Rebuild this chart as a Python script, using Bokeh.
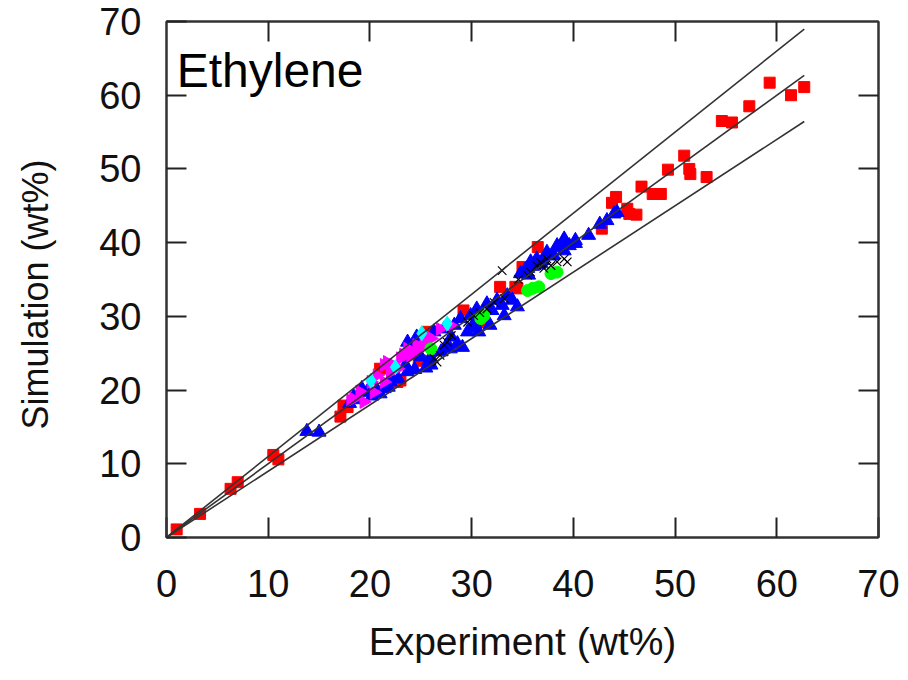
import numpy as np
from bokeh.plotting import figure
from bokeh.models import Range1d, LinearAxis, FixedTicker, Label
from bokeh.embed import file_html
from bokeh.resources import INLINE

# ---- data (Experiment wt%, Simulation wt%) ----
red_x = [1.0, 3.3, 6.3, 7.0, 10.5, 11.0, 17.1, 17.8, 17.4, 21.0, 22.7, 23.0, 25.0, 24.8, 25.6,
         29.2, 31.2, 32.8, 34.3, 34.5, 35.0, 36.5, 42.8, 43.8, 44.2, 45.3, 45.5, 46.2, 46.7,
         47.8, 48.6, 49.3, 50.9, 51.4, 51.5, 53.1, 54.6, 55.6, 57.3, 59.3, 61.4, 62.7]
red_y = [1.1, 3.2, 6.6, 7.5, 11.2, 10.6, 16.4, 17.7, 17.9, 22.9, 21.1, 21.3, 24.0, 24.0, 27.9,
         30.8, 29.2, 34.0, 34.0, 33.8, 36.7, 39.4, 41.9, 45.4, 46.2, 44.6, 43.9, 43.8, 47.6,
         46.6, 46.6, 49.9, 51.8, 50.0, 49.3, 48.9, 56.5, 56.3, 58.5, 61.7, 60.0, 61.1]

blue_x = [13.8, 15.0, 18.4, 19.2, 19.7, 20.7, 21.4, 22.0, 23.7, 23.5, 24.0, 25.0, 26.0, 26.0,
          23.7, 24.6, 26.3, 27.3, 27.9, 28.3, 28.6, 28.9, 29.1, 29.6, 29.9, 30.5, 30.7, 31.5,
          31.8, 32.5, 33.2, 33.5, 34.0, 34.5, 35.5, 35.8, 36.4, 37.4, 38.4, 39.1, 39.1, 39.0,
          40.2, 40.2, 41.5, 42.6, 43.3, 44.0, 44.3, 19.0, 21.0, 22.5, 25.5, 27.0, 30.0, 33.0,
          36.8, 37.9, 38.8, 18.0, 20.2, 21.8, 22.8, 24.4, 25.8, 27.5, 28.0, 30.3, 31.0, 32.0,
          34.8, 35.2, 36.0, 37.0, 38.0, 39.6, 35.6, 36.6]
blue_y = [14.4, 14.3, 19.1, 20.2, 19.7, 20.0, 20.2, 21.1, 22.5, 23.4, 25.2, 24.5, 24.3, 23.4,
          26.5, 27.2, 27.9, 28.3, 25.6, 28.8, 26.3, 29.7, 25.8, 27.9, 30.1, 31.0, 27.9, 31.7,
          28.8, 32.2, 30.1, 32.8, 32.2, 31.3, 36.5, 37.4, 37.8, 38.7, 39.6, 40.5, 38.9, 40.1,
          40.3, 39.9, 41.0, 42.5, 43.0, 43.9, 44.1, 18.7, 19.5, 21.8, 23.0, 25.2, 28.5, 31.5,
          37.2, 38.2, 39.3, 18.2, 19.2, 20.4, 21.5, 22.8, 24.0, 26.0, 27.2, 29.0, 29.8, 30.8,
          35.8, 36.2, 36.8, 37.6, 38.4, 39.6, 35.6, 37.0]

mag_x = [18.1, 18.4, 19.4, 20.1, 20.4, 20.7, 21.4, 21.4, 21.7, 22.3, 22.7, 23.0, 23.7, 24.0,
         24.3, 24.6, 25.3, 25.6, 26.0, 26.9, 27.9, 19.0, 22.0, 23.3, 25.0]
mag_y = [18.6, 18.8, 18.4, 21.1, 19.7, 22.0, 21.1, 23.4, 23.8, 23.4, 22.9, 24.3, 25.6, 24.7,
         25.2, 26.1, 26.5, 27.4, 27.0, 28.3, 28.8, 19.8, 22.4, 24.8, 25.8]

cyan_x = [20.1, 22.5, 25.1, 27.6]
cyan_y = [21.3, 23.1, 27.7, 29.0]

green_x = [26.0, 30.9, 31.2, 35.5, 36.0, 36.6, 37.8, 38.4]
green_y = [25.6, 29.7, 30.1, 33.5, 33.8, 34.0, 35.8, 36.0]

black_x = [26.3, 26.6, 26.9, 27.3, 27.6, 29.6, 30.2, 31.5, 32.2, 33.2, 33.0, 35.5, 35.8, 36.4,
           37.1, 37.4, 37.8, 38.4, 39.1, 39.4, 28.0, 30.8, 34.6, 36.8]
black_y = [24.3, 23.8, 24.7, 26.1, 26.5, 29.2, 30.1, 31.0, 31.9, 32.4, 36.2, 35.6, 36.0, 36.9,
           36.5, 37.8, 36.9, 37.4, 37.8, 37.4, 27.4, 30.5, 35.0, 37.3]

line_x = [0.0, 62.7]
line_factors = [1.1, 1.0, 0.9]

ticks = [0, 10, 20, 30, 40, 50, 60, 70]
mirror_ticks = [10, 20, 30, 40, 50, 60]

FONT = "Liberation Sans"

p = figure(frame_width=712, frame_height=516,
           min_border_left=166, min_border_right=22, min_border_top=21, min_border_bottom=135,
           x_range=Range1d(0, 70), y_range=Range1d(0, 70),
           output_backend="svg", toolbar_location=None,
           x_axis_label="Experiment (wt%)",
           y_axis_label="Simulation (wt%)\u00a0\u00a0\u00a0")

p.xgrid.visible = False
p.ygrid.visible = False
p.outline_line_color = "#333333"
p.outline_line_width = 2
p.background_fill_color = "white"
p.border_fill_color = "white"

for ax in (p.xaxis[0], p.yaxis[0]):
    ax.ticker = FixedTicker(ticks=ticks)
    ax.major_tick_in = 20
    ax.major_tick_out = 0
    ax.minor_tick_in = 0
    ax.minor_tick_out = 0
    ax.axis_line_color = "#333333"
    ax.axis_line_width = 2
    ax.major_tick_line_color = "#222222"
    ax.major_tick_line_width = 2
    ax.major_label_text_font = FONT
    ax.major_label_text_font_size = "38px"
    ax.major_label_text_color = "#111111"
    ax.axis_label_text_font = FONT
    ax.axis_label_text_font_style = "normal"
    ax.axis_label_text_color = "#111111"

p.xaxis[0].axis_label_text_font_size = "39px"
p.yaxis[0].axis_label_text_font_size = "36px"
p.xaxis[0].major_label_standoff = 32
p.xaxis[0].axis_label_standoff = 20
p.yaxis[0].major_label_standoff = 25
p.yaxis[0].axis_label_standoff = 40

# mirrored inward ticks on the top and right frame edges (no labels)
for side in ("right", "above"):
    ax = LinearAxis(ticker=FixedTicker(ticks=mirror_ticks))
    ax.major_tick_in = 20
    ax.major_tick_out = 0
    ax.minor_tick_in = 0
    ax.minor_tick_out = 0
    ax.major_label_overrides = {t: "" for t in mirror_ticks}
    ax.major_label_text_font_size = "10px"
    ax.major_label_standoff = 0
    ax.axis_line_color = "#333333"
    ax.axis_line_width = 2
    ax.major_tick_line_color = "#222222"
    ax.major_tick_line_width = 2
    p.add_layout(ax, side)

# markers
p.scatter(red_x, red_y, marker="square", size=11, fill_color="#ff0000", line_color="#ff0000")
p.scatter(blue_x, blue_y, marker="triangle", size=14, fill_color="#0000ff", line_color="#0000ff")
p.scatter(mag_x, mag_y, marker="triangle", angle=-np.pi / 2, size=13,
          fill_color="#ff00ff", line_color="#ff00ff")
p.scatter(cyan_x, cyan_y, marker="diamond", size=15, fill_color="#00ffff", line_color="#00ffff")
p.scatter(green_x, green_y, marker="circle", size=12, fill_color="#00ff00", line_color="#00ff00")
p.scatter(black_x, black_y, marker="x", size=12, line_color="#000000", line_width=1.2)

for f in line_factors:
    p.line(line_x, [v * f for v in line_x], line_color="#333333", line_width=1.6)

p.add_layout(Label(x=1.0, y=63.3, text="Ethylene", text_font=FONT, text_font_size="48px",
                   text_baseline="alphabetic", text_color="#000000"))

open("out.html", "w").write(file_html(p, INLINE))
